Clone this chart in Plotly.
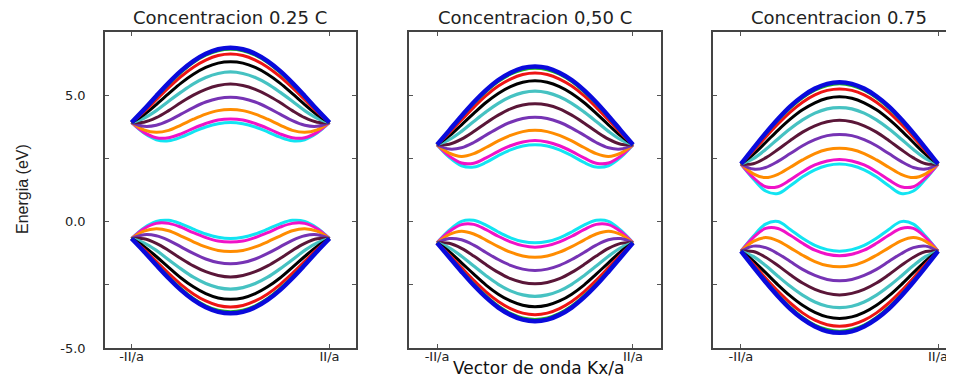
import plotly.graph_objects as go

# |kx| sample points (units of pi/a), centre -> zone edge; bands are symmetric in kx
K_HALF = [0.0, 0.125, 0.25, 0.375, 0.5, 0.625, 0.75, 0.875, 1.0]

X_TICKS = [-1, 1]
X_TICK_TEXT = ["-II/a", "II/a"]
Y_TICKS = [-5, -2.5, 0, 2.5, 5]
Y_TICK_TEXT = ["-5.0", "", "0.0", "", "5.0"]

TITLES = ["Concentracion 0.25 C", "Concentracion 0,50 C", "Concentracion 0.75"]
X_TITLE = "Vector de onda Kx/a"
Y_TITLE = "Energia (eV)"

SERIES = ["blue", "green", "red", "black", "teal", "maroon", "purple", "orange", "magenta", "cyan"]
COLORS = ["#0a0adc", "#1fb51f", "#ee1414", "#000000", "#46c2c2",
          "#5a1638", "#7633b4", "#ff8c00", "#f012c8", "#12e4f2"]
WIDTHS = [4.5, 3, 3, 3, 3.2, 3, 3, 3, 3, 3]

# Panel 1 (0.25 C)
P1_UP = [
    [6.88, 6.82, 6.64, 6.35, 5.96, 5.49, 4.97, 4.43, 3.92],
    [6.82, 6.76, 6.58, 6.29, 5.90, 5.44, 4.93, 4.41, 3.92],
    [6.63, 6.57, 6.39, 6.11, 5.74, 5.30, 4.82, 4.34, 3.92],
    [6.32, 6.27, 6.10, 5.83, 5.48, 5.06, 4.63, 4.23, 3.92],
    [5.92, 5.86, 5.70, 5.45, 5.12, 4.76, 4.39, 4.09, 3.92],
    [5.44, 5.38, 5.23, 5.00, 4.71, 4.39, 4.11, 3.93, 3.92],
    [4.92, 4.87, 4.73, 4.51, 4.25, 3.99, 3.81, 3.77, 3.92],
    [4.43, 4.39, 4.25, 4.05, 3.82, 3.61, 3.53, 3.63, 3.92],
    [4.06, 4.02, 3.88, 3.69, 3.47, 3.32, 3.32, 3.53, 3.92],
    [3.92, 3.87, 3.74, 3.55, 3.34, 3.20, 3.24, 3.50, 3.92],
]
P1_LOW = [
    [-3.63, -3.57, -3.39, -3.10, -2.71, -2.24, -1.72, -1.18, -0.67],
    [-3.57, -3.51, -3.33, -3.04, -2.65, -2.19, -1.68, -1.16, -0.67],
    [-3.38, -3.32, -3.14, -2.86, -2.49, -2.05, -1.57, -1.09, -0.67],
    [-3.07, -3.02, -2.85, -2.58, -2.23, -1.81, -1.38, -0.98, -0.67],
    [-2.67, -2.61, -2.45, -2.20, -1.87, -1.51, -1.14, -0.84, -0.67],
    [-2.19, -2.13, -1.98, -1.75, -1.46, -1.14, -0.86, -0.68, -0.67],
    [-1.67, -1.62, -1.48, -1.26, -1.00, -0.74, -0.56, -0.52, -0.67],
    [-1.18, -1.14, -1.00, -0.80, -0.57, -0.36, -0.28, -0.38, -0.67],
    [-0.81, -0.77, -0.63, -0.44, -0.22, -0.07, -0.07, -0.28, -0.67],
    [-0.67, -0.62, -0.49, -0.30, -0.09, 0.05, 0.01, -0.25, -0.67],
]

# Panel 2 (0,50 C)
P2_UP = [
    [6.14, 6.08, 5.89, 5.60, 5.20, 4.72, 4.18, 3.61, 3.04],
    [6.07, 6.01, 5.83, 5.54, 5.14, 4.67, 4.14, 3.58, 3.04],
    [5.88, 5.82, 5.64, 5.36, 4.98, 4.52, 4.02, 3.51, 3.04],
    [5.57, 5.51, 5.34, 5.07, 4.71, 4.28, 3.83, 3.39, 3.04],
    [5.16, 5.10, 4.94, 4.68, 4.34, 3.96, 3.57, 3.24, 3.04],
    [4.66, 4.61, 4.46, 4.21, 3.90, 3.56, 3.26, 3.06, 3.04],
    [4.13, 4.08, 3.93, 3.70, 3.42, 3.13, 2.92, 2.87, 3.04],
    [3.61, 3.56, 3.41, 3.19, 2.93, 2.69, 2.58, 2.71, 3.04],
    [3.21, 3.15, 3.00, 2.78, 2.52, 2.31, 2.32, 2.59, 3.04],
    [3.04, 2.99, 2.84, 2.61, 2.34, 2.16, 2.21, 2.54, 3.04],
]
P2_LOW = [
    [-3.94, -3.88, -3.69, -3.40, -3.00, -2.52, -1.98, -1.41, -0.84],
    [-3.87, -3.81, -3.63, -3.34, -2.94, -2.47, -1.94, -1.38, -0.84],
    [-3.68, -3.62, -3.44, -3.16, -2.78, -2.32, -1.82, -1.31, -0.84],
    [-3.37, -3.31, -3.14, -2.87, -2.51, -2.08, -1.63, -1.19, -0.84],
    [-2.96, -2.90, -2.74, -2.48, -2.14, -1.76, -1.37, -1.04, -0.84],
    [-2.46, -2.41, -2.26, -2.01, -1.70, -1.36, -1.06, -0.86, -0.84],
    [-1.93, -1.88, -1.73, -1.50, -1.22, -0.93, -0.72, -0.67, -0.84],
    [-1.41, -1.36, -1.21, -0.99, -0.73, -0.49, -0.38, -0.51, -0.84],
    [-1.01, -0.95, -0.80, -0.58, -0.32, -0.11, -0.12, -0.39, -0.84],
    [-0.84, -0.79, -0.64, -0.41, -0.14, 0.05, 0.01, -0.34, -0.84],
]

# Panel 3 (0.75)
P3_UP = [
    [5.51, 5.45, 5.26, 4.96, 4.56, 4.06, 3.50, 2.90, 2.28],
    [5.45, 5.38, 5.20, 4.90, 4.50, 4.01, 3.46, 2.87, 2.28],
    [5.25, 5.19, 5.01, 4.72, 4.33, 3.86, 3.34, 2.79, 2.28],
    [4.94, 4.88, 4.70, 4.42, 4.05, 3.61, 3.13, 2.66, 2.28],
    [4.51, 4.46, 4.29, 4.02, 3.67, 3.27, 2.85, 2.49, 2.28],
    [4.01, 3.95, 3.79, 3.54, 3.21, 2.85, 2.52, 2.29, 2.28],
    [3.45, 3.40, 3.24, 3.00, 2.69, 2.38, 2.14, 2.08, 2.28],
    [2.90, 2.85, 2.69, 2.44, 2.15, 1.87, 1.74, 1.89, 2.28],
    [2.46, 2.40, 2.24, 1.97, 1.65, 1.38, 1.38, 1.74, 2.28],
    [2.28, 2.22, 2.05, 1.77, 1.42, 1.11, 1.21, 1.69, 2.28],
]
P3_LOW = [
    [-4.40, -4.34, -4.15, -3.85, -3.45, -2.95, -2.39, -1.79, -1.17],
    [-4.34, -4.27, -4.09, -3.79, -3.39, -2.90, -2.35, -1.76, -1.17],
    [-4.14, -4.08, -3.90, -3.61, -3.22, -2.75, -2.23, -1.68, -1.17],
    [-3.83, -3.77, -3.59, -3.31, -2.94, -2.50, -2.02, -1.55, -1.17],
    [-3.40, -3.35, -3.18, -2.91, -2.56, -2.16, -1.74, -1.38, -1.17],
    [-2.90, -2.84, -2.68, -2.43, -2.10, -1.74, -1.41, -1.18, -1.17],
    [-2.34, -2.29, -2.13, -1.89, -1.58, -1.27, -1.03, -0.97, -1.17],
    [-1.79, -1.74, -1.58, -1.33, -1.04, -0.76, -0.63, -0.78, -1.17],
    [-1.35, -1.29, -1.13, -0.86, -0.54, -0.27, -0.27, -0.63, -1.17],
    [-1.17, -1.11, -0.94, -0.66, -0.31, 0.00, -0.10, -0.58, -1.17],
]

PANELS = [(P1_UP, P1_LOW), (P2_UP, P2_LOW), (P3_UP, P3_LOW)]

# ---------------------------------------------------------------- figure
# The page body has an 8 px default margin; the figure is sized so that
# its content lands where the reference's content is in the 954x379 window.
OFF = 8
W, H = 954 - OFF, 379 - OFF
ML, MR, MT, MB = 105 - OFF, 0, 32 - OFF, 31
PW, PH = W - ML - MR, H - MT - MB


def px_x(p):  # page pixel -> paper x
    return (p - OFF - ML) / PW


def px_y(p):  # page pixel -> paper y
    return (H - MB - (p - OFF)) / PH


K_FULL = [-k for k in reversed(K_HALF)] + K_HALF[1:]


def full(half):
    return list(reversed(half)) + half[1:]


fig = go.Figure()
for p, (up, low) in enumerate(PANELS):
    xa = "x" if p == 0 else f"x{p + 1}"
    ya = "y" if p == 0 else f"y{p + 1}"
    for band in (up, low):
        for i in reversed(range(len(SERIES))):
            fig.add_trace(go.Scatter(
                x=K_FULL, y=full(band[i]), mode="lines", name=SERIES[i],
                line=dict(color=COLORS[i], width=WIDTHS[i], shape="spline", smoothing=1),
                xaxis=xa, yaxis=ya, showlegend=False, hoverinfo="skip"))

DOMAINS = [[px_x(105), px_x(356)], [px_x(409), px_x(661)], [px_x(713), 1.0]]
XRANGES = [[-1.268, 1.268], [-1.286, 1.286], [-1.284, 1.162]]

tick_font = dict(family="DejaVu Sans, Liberation Sans, Arial", size=13, color="#222")
common = dict(showline=True, linecolor="#444", linewidth=1.5, ticks="inside",
              ticklen=4, tickwidth=1, tickcolor="#555", showgrid=False,
              zeroline=False, tickfont=tick_font)

layout = dict(width=W, height=H, margin=dict(l=ML, r=MR, t=MT, b=MB),
              paper_bgcolor="white", plot_bgcolor="white", showlegend=False)
for p in range(3):
    sx = "" if p == 0 else str(p + 1)
    layout["xaxis" + sx] = dict(
        common, domain=DOMAINS[p], range=XRANGES[p], anchor="y" + sx,
        mirror="ticks", tickmode="array", tickvals=X_TICKS, ticktext=X_TICK_TEXT,
        ticklabelstandoff=-4)
    layout["yaxis" + sx] = dict(
        common, domain=[0, 1], range=[-5, 7.5], anchor="x" + sx,
        mirror="ticks" if p < 2 else False, tickmode="array", tickvals=Y_TICKS,
        ticktext=Y_TICK_TEXT, showticklabels=(p == 0), ticklabelstandoff=15)

title_font = dict(family="DejaVu Sans, Liberation Sans, Arial", size=18, color="#222")
annotations = []
for cx, t in zip([229.5, 535, 838.5], TITLES):
    annotations.append(dict(text=t, x=px_x(cx), y=px_y(18), xref="paper", yref="paper",
                            xanchor="center", yanchor="middle", showarrow=False,
                            font=title_font))
annotations.append(dict(text=X_TITLE, x=px_x(538), y=px_y(368), xref="paper", yref="paper",
                        xanchor="center", yanchor="middle", showarrow=False,
                        font=dict(family="DejaVu Sans, Liberation Sans, Arial", size=17,
                                  color="#111")))
annotations.append(dict(text=Y_TITLE, x=px_x(22), y=px_y(189), xref="paper", yref="paper",
                        xanchor="center", yanchor="middle", showarrow=False, textangle=-90,
                        font=dict(family="Liberation Sans Narrow, Arial Narrow, Liberation Sans",
                                  size=16, color="#222")))
layout["annotations"] = annotations

fig.update_layout(**layout)
fig.write_html("out.html")
